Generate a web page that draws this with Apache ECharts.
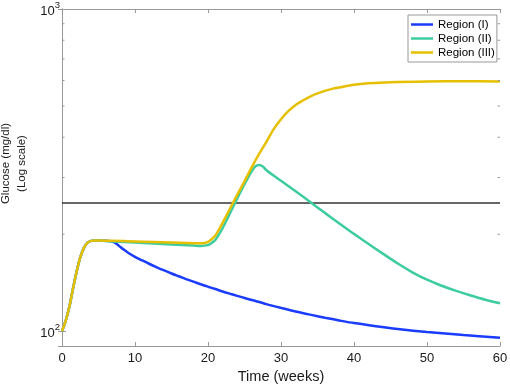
<!DOCTYPE html>
<html>
<head>
<meta charset="utf-8">
<script src="https://cdn.jsdelivr.net/npm/echarts@6/dist/echarts.min.js"></script>
<style>html,body{margin:0;padding:0;background:#fff}#c{width:510px;height:387px}</style>
</head>
<body>
<div id="c"></div>
<script>
// ---- data ----
const SERIES_NAMES = ['Region (I)', 'Region (II)', 'Region (III)'];
const X_TICKS = [0, 10, 20, 30, 40, 50, 60];
const Y_TICK_LABELS = ['10^2', '10^3'];
const Y_MINOR_TICKS = [200, 300, 400, 500, 600, 700, 800, 900];
const THRESHOLD = 250;

const T_I = [0, 0.5, 1, 1.5, 2, 2.5, 3, 3.5, 4, 4.5, 5, 6, 6.5, 7, 7.5, 8, 8.5, 9, 10, 11, 12, 13, 14, 15, 16, 17, 18, 19, 20, 21, 22, 23, 24, 25, 26, 28, 30, 32, 34, 36, 38, 40, 43, 46, 50, 55, 60];
const G_I = [100, 107.7, 118.9, 135.5, 153, 169.4, 181.5, 188.4, 190.8, 191.4, 191.4, 191, 190.5, 189.4, 186.6, 182.6, 178.9, 175.6, 170.2, 165.8, 161.7, 157.9, 154.4, 151.1, 148.1, 145.2, 142.5, 139.9, 137.5, 135.2, 132.9, 130.8, 128.8, 126.8, 125.0, 121.4, 118.2, 115.2, 112.6, 110.2, 108.0, 106.0, 103.7, 101.7, 99.5, 97.3, 95.5];

const T_II = [0, 0.5, 1, 1.5, 2, 2.5, 3, 3.5, 4, 4.5, 5, 7, 10, 15, 18, 19, 20, 20.5, 21, 22, 23, 24, 25, 26, 26.5, 27, 27.5, 28, 30, 32, 34, 36, 38, 40, 42, 44, 46, 48, 50, 52, 54, 56, 58, 60];
const G_II = [100, 107.7, 118.9, 135.5, 153, 169.4, 181.5, 188.4, 190.8, 191.4, 191.2, 190, 188.5, 186, 184.5, 184, 185, 188, 192, 209, 232, 258, 286, 314, 325, 328, 324.5, 316, 293, 272, 252, 233, 216, 200.5, 186.6, 173.8, 162.2, 152.4, 144.5, 138.4, 133.4, 129.1, 125.3, 122.2];

const T_III = [0, 0.5, 1, 1.5, 2, 2.5, 3, 3.5, 4, 4.5, 5, 10, 15, 19, 19.5, 20, 20.5, 21, 22, 23, 24, 25, 26, 27, 28, 29, 30, 31, 32, 33, 34, 35, 36, 37, 38, 40, 42, 45, 50, 55, 60];
const G_III = [100, 107.7, 118.9, 135.5, 153, 169.4, 181.5, 188.4, 190.8, 191.4, 191.4, 190, 188.5, 187.5, 187.8, 189.5, 193, 198, 217, 240, 265, 292, 323, 355, 387, 424, 455, 482, 504, 520, 535, 547, 557, 565, 571, 582, 588, 593, 596, 596.5, 596];

const COLORS = ['#1a3cff', '#3dcc9f', '#e6c000'];

function pairs(t, g) { return t.map((x, i) => [x, g[i]]); }

const chart = echarts.init(document.getElementById('c'), null, { renderer: 'canvas' });
const FONT = 'Liberation Sans, Arial, Helvetica, sans-serif';

function yLabel(v) {
  const e = Math.round(Math.log10(v));
  const lab = '10^' + e;
  if (Math.abs(Math.pow(10, e) - v) > 1e-6 || Y_TICK_LABELS.indexOf(lab) < 0) return '';
  return '{b|10}{s|' + e + '}';
}

const axisLineStyle = { color: '#999', width: 1 };

function lineSeries(i, t, g, z) {
  return {
    name: SERIES_NAMES[i], type: 'line', data: pairs(t, g), smooth: 0.3,
    symbol: 'none', showSymbol: false,
    lineStyle: { color: COLORS[i], width: 2.5 }, itemStyle: { color: COLORS[i] }, z: z
  };
}

const option = {
  animation: false,
  backgroundColor: '#fff',
  grid: { left: 62, right: 10, top: 9, bottom: 41, containLabel: false, outerBoundsMode: 'none' },
  legend: {
    data: SERIES_NAMES,
    left: 408, top: 15,
    orient: 'vertical',
    icon: 'rect',
    backgroundColor: '#fff',
    borderColor: '#999', borderWidth: 1, borderRadius: 0,
    padding: [3, 2, 3, 3],
    itemGap: 1,
    itemWidth: 22, itemHeight: 2.5,
    textStyle: { fontFamily: FONT, fontSize: 11.5, color: '#000', lineHeight: 13 }
  },
  xAxis: [{
    type: 'value', min: X_TICKS[0], max: X_TICKS[X_TICKS.length - 1], interval: 10,
    name: 'Time (weeks)', nameLocation: 'middle', nameGap: 21,
    nameTextStyle: { fontFamily: FONT, fontSize: 14.5, color: '#1a1a1a' },
    axisLine: { show: true, lineStyle: axisLineStyle },
    axisTick: { show: true, inside: true, length: 4, lineStyle: axisLineStyle },
    axisLabel: { fontFamily: FONT, fontSize: 13, color: '#1a1a1a', margin: 6 },
    splitLine: { show: false }
  }, {
    type: 'value', position: 'top', min: X_TICKS[0], max: X_TICKS[X_TICKS.length - 1], interval: 10,
    axisLine: { show: true, lineStyle: axisLineStyle },
    axisTick: { show: true, inside: true, length: 4, lineStyle: axisLineStyle },
    axisLabel: { show: false },
    splitLine: { show: false }
  }],
  yAxis: [{
    type: 'log', logBase: 10, min: 90, max: 1000,
    name: 'Glucose (mg/dl)\n(Log scale)', nameLocation: 'middle', nameGap: 32, nameRotate: 90,
    nameTextStyle: { fontFamily: FONT, fontSize: 11.5, color: '#1a1a1a', lineHeight: 16, padding: [0, 0, 0, 28] },
    axisLine: { show: true, lineStyle: axisLineStyle },
    axisTick: { show: true, inside: true, length: 4, lineStyle: axisLineStyle },
    axisLabel: {
      margin: 2, formatter: yLabel, showMinLabel: false,
      rich: {
        b: { fontFamily: FONT, fontSize: 13, color: '#1a1a1a', verticalAlign: 'bottom', lineHeight: 18 },
        s: { fontFamily: FONT, fontSize: 9.5, color: '#1a1a1a', verticalAlign: 'top', lineHeight: 18 }
      }
    },
    splitLine: { show: false }
  }, {
    type: 'log', logBase: 10, min: 90, max: 1000, position: 'right',
    axisLine: { show: true, lineStyle: axisLineStyle },
    axisTick: { show: true, inside: true, length: 4, lineStyle: axisLineStyle },
    axisLabel: { show: false },
    splitLine: { show: false }
  }],
  series: [
    {
      name: 'threshold', type: 'line', data: [[X_TICKS[0], THRESHOLD], [X_TICKS[X_TICKS.length - 1], THRESHOLD]],
      symbol: 'none', lineStyle: { color: '#333', width: 1.3 }, z: 1, silent: true
    },
    {
      name: 'minorTicks', type: 'custom', silent: true, clip: false, z: 5,
      data: Y_MINOR_TICKS.map(v => [v]),
      renderItem: function (params, api) {
        const v = api.value(0);
        const l = api.coord([X_TICKS[0], v]);
        const r = api.coord([X_TICKS[X_TICKS.length - 1], v]);
        const st = { stroke: '#999', lineWidth: 1 };
        return {
          type: 'group', children: [
            { type: 'line', shape: { x1: l[0], y1: l[1], x2: l[0] + 2.5, y2: l[1] }, style: st },
            { type: 'line', shape: { x1: r[0], y1: r[1], x2: r[0] - 2.5, y2: r[1] }, style: st }
          ]
        };
      },
      encode: { y: 0 }
    },
    lineSeries(0, T_I, G_I, 3),
    lineSeries(1, T_II, G_II, 3),
    lineSeries(2, T_III, G_III, 4)
  ]
};
chart.setOption(option);
</script>
</body>
</html>
